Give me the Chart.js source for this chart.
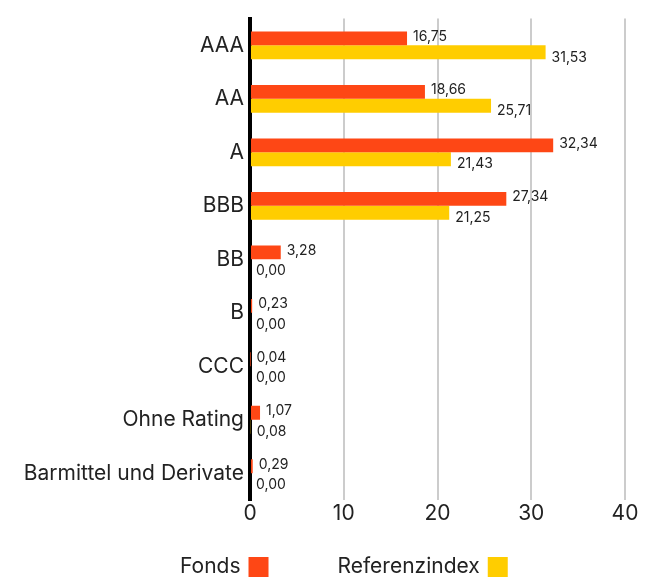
<!DOCTYPE html>
<html><head><meta charset="utf-8">
<script src="https://cdn.jsdelivr.net/npm/chart.js@4"></script>
<style>html,body{margin:0;padding:0;background:#fff}#wrap{width:653px;height:581px;position:relative}</style>
</head><body><div id="wrap"><canvas id="c" width="653" height="581"></canvas></div>
<script>
const categories = ["AAA","AA","A","BBB","BB","B","CCC","Ohne Rating","Barmittel und Derivate"];
const fondsValues = [16.75,18.66,32.34,27.34,3.28,0.23,0.04,1.07,0.29];
const referenzValues = [31.53,25.71,21.43,21.25,0.00,0.00,0.00,0.08,0.00];
const seriesNames = ["Fonds","Referenzindex"];
const xTicks = [0,10,20,30,40];

const FONT = "Inter, 'Noto Sans', sans-serif";
const fmt = v => v.toFixed(2).replace('.', ',');

const labelPlugin = {
  id: 'valLabels',
  afterDatasetsDraw(chart) {
    const ctx = chart.ctx;
    ctx.save();
    ctx.font = "14px " + FONT;
    ctx.fillStyle = "#222";
    ctx.textBaseline = "middle";
    ctx.textAlign = "left";
    chart.data.datasets.forEach((ds, di) => {
      const meta = chart.getDatasetMeta(di);
      meta.data.forEach((el, i) => {
        const dy = di === 0 ? -2 : 5;
        ctx.fillText(fmt(ds.data[i]), el.x + 6, el.y + dy);
      });
    });
    ctx.restore();
  }
};

const legendPlugin = {
  id: 'customLegend',
  afterDraw(chart) {
    const ctx = chart.ctx;
    ctx.save();
    ctx.font = "21px " + FONT;
    ctx.textBaseline = "middle";
    ctx.textAlign = "left";
    const y = 567, box = 20, gap = 8, itemGap = 69;
    let x = 180;
    chart.data.datasets.forEach((ds) => {
      const w = ctx.measureText(ds.label).width;
      ctx.fillStyle = "#222";
      ctx.fillText(ds.label, x, y);
      x += w + gap;
      ctx.fillStyle = ds.backgroundColor;
      ctx.fillRect(x, y - box/2, box, box);
      x += box + itemGap;
    });
    ctx.restore();
  }
};

new Chart(document.getElementById('c'), {
  type: 'bar',
  data: {
    labels: categories,
    datasets: [
      { label: seriesNames[0], data: fondsValues, backgroundColor: "#fe4715", barPercentage: 1, categoryPercentage: 0.52 },
      { label: seriesNames[1], data: referenzValues, backgroundColor: "#ffcd00", barPercentage: 1, categoryPercentage: 0.52 }
    ]
  },
  options: {
    indexAxis: 'y',
    responsive: false,
    animation: false,
    layout: { padding: { top: 18, right: 28, bottom: 53, left: 0 } },
    plugins: { legend: { display: false }, tooltip: { enabled: false } },
    scales: {
      x: {
        min: 0, max: 40,
        afterBuildTicks: s => { s.ticks = xTicks.map(v => ({ value: v })); },
        grid: { color: "#cccccc", lineWidth: 2, drawTicks: false },
        border: { display: false },
        ticks: { color: "#222", font: { family: FONT, size: 21 }, padding: 1 },
        afterFit: s => { s.height = 28; }
      },
      y: {
        grid: { display: false, drawTicks: false },
        border: { display: true, color: "#000", width: 4 },
        ticks: { color: "#222", font: { family: FONT, size: 21 }, padding: 6 },
        afterFit: s => { s.width = 250; }
      }
    }
  },
  plugins: [labelPlugin, legendPlugin]
});
</script></body></html>
